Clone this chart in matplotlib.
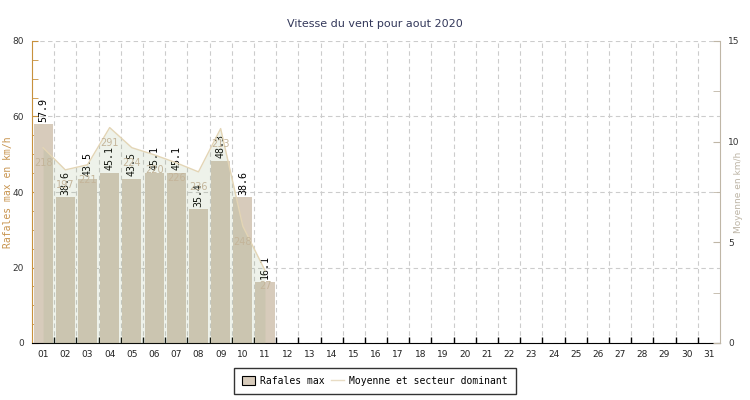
import matplotlib.pyplot as plt
import numpy as np
from matplotlib.patches import Patch
from matplotlib.lines import Line2D

# Data
days = np.arange(1, 32)
day_labels = [f"{d:02d}" for d in days]

rafales_days = np.arange(1, 12)
rafales = [57.9, 38.6, 43.5, 45.1, 43.5, 45.1, 45.1, 35.4, 48.3, 38.6, 16.1]

moyenne = [9.7, 8.6, 8.85, 10.7, 9.7, 9.35, 8.95, 8.5, 10.65, 5.8, 3.6]
secteur = [218, 197, 221, 291, 224, 220, 226, 236, 213, 248, 27]

fig = plt.figure(figsize=(7.5, 4), dpi=100)
ax = fig.add_axes([32 / 750, 1 - 343 / 400, (720 - 32) / 750, (343 - 41) / 400])
ax2 = ax.twinx()

# Bars (left axis)
ax.set_axisbelow(True)
ax.bar(rafales_days, rafales, width=0.86, color="#d7cbbb", edgecolor="none", zorder=2)
for x, v in zip(rafales_days, rafales):
    ax.annotate(f"{v}", (x, v), xytext=(0, 2), textcoords="offset points",
                rotation=90, ha="center", va="bottom", fontsize=7.2,
                family="DejaVu Sans Mono", color="black", zorder=3)

ax.set_xlim(0.5, 31.5)
ax.set_ylim(0, 80)
ax.set_xticks(days)
ax.set_xticklabels(day_labels, fontsize=6.5, color="#222222")
ax.set_xticks(np.arange(1.5, 31.5, 1), minor=True)
ax.tick_params(axis="x", which="major", length=0, pad=5)
ax.tick_params(axis="x", which="minor", direction="in", length=4, color="black", width=1)
ax.set_yticks([0, 20, 40, 60, 80])
ax.set_yticks(np.arange(0, 81, 5), minor=True)
ax.tick_params(axis="y", which="both", direction="in", length=4, color="#c8913c",
               labelsize=6.5, labelcolor="#333333", pad=6)
ax.grid(True, axis="y", which="major", linestyle=(0, (4, 3)), color="#cccccc", lw=0.8)
ax.grid(True, axis="x", which="minor", linestyle=(0, (4, 3)), color="#cccccc", lw=0.8)
ax.set_ylabel("Rafales max en km/h", fontsize=7, family="DejaVu Sans Mono",
              color="#c8944e")
ax.yaxis.set_label_coords((13 - 32) / 688, 0.5)

for side in ["top", "right"]:
    ax.spines[side].set_visible(False)
ax.spines["left"].set_color("#c8913c")
ax.spines["bottom"].set_color("black")

# Moyenne area (right axis)
ax2.fill_between(rafales_days, 0, moyenne, color="#8da873", alpha=0.15, lw=0, zorder=1)
ax2.plot(rafales_days, moyenne, color="#e3d5b5", lw=1, zorder=2)
for x, v, s in zip(rafales_days, moyenne, secteur):
    ax2.annotate(str(s), (x, v), xytext=(0, -11), textcoords="offset points",
                 ha="center", va="center", fontsize=7, color="#c4b59a", zorder=3)

ax2.set_ylim(0, 15)
ax2.set_yticks([0, 5, 10, 15])
ax2.set_yticks(np.arange(0, 15.1, 2.5), minor=True)
ax2.tick_params(axis="y", which="both", direction="in", length=5, color="#bfb6a6",
                labelsize=6.5, labelcolor="#333333", pad=6)
ax2.set_ylabel("Moyenne en km/h", fontsize=6.5, color="#bdb5a6", rotation=90)
ax2.yaxis.set_label_coords((734 - 32) / 688, 0.5)
for side in ["top", "left", "bottom"]:
    ax2.spines[side].set_visible(False)
ax2.spines["right"].set_color("#bfb6a6")

fig.text(375 / 750, 1 - 24 / 400, "Vitesse du vent pour aout 2020", ha="center",
         va="center", fontsize=8, color="#33385a")

# Legend
handles = [Patch(facecolor="#d7cbbb", edgecolor="black", lw=0.8),
           Line2D([], [], color="#e8dcc4", lw=1)]
leg = fig.legend(handles, ["Rafales max", "Moyenne et secteur dominant"],
                 loc="center", bbox_to_anchor=(375 / 750, 1 - 381 / 400), ncol=2,
                 prop={"family": "DejaVu Sans Mono", "size": 7}, frameon=True,
                 fancybox=False, edgecolor="black", handlelength=1.3,
                 handleheight=1.0, columnspacing=0.6, handletextpad=0.6,
                 borderpad=0.8)
leg.get_frame().set_linewidth(1)

fig.savefig("out.png", dpi=100)
